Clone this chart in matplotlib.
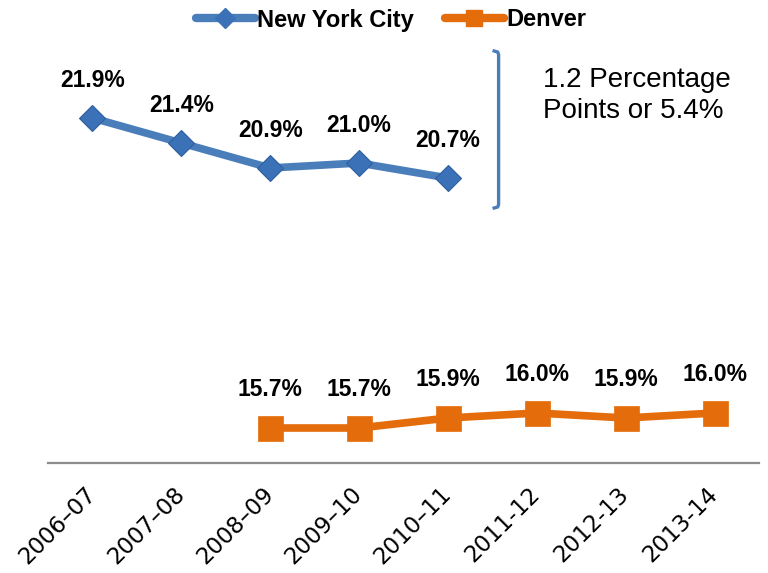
import matplotlib
matplotlib.use("Agg")
import matplotlib.pyplot as plt
from matplotlib.lines import Line2D

seasons = ['2006–07', '2007–08', '2008–09', '2009–10', '2010–11',
           '2011-12', '2012-13', '2013-14']

nyc_idx = [0, 1, 2, 3, 4]
nyc_vals = [21.9, 21.4, 20.9, 21.0, 20.7]

denver_idx = [2, 3, 4, 5, 6, 7]
denver_vals = [15.7, 15.7, 15.9, 16.0, 15.9, 16.0]

note = '1.2 Percentage\nPoints or 5.4%'

blue = '#4A7EBB'
blue_mk = '#3B71B6'
orange = '#E46C0A'

fig = plt.figure(figsize=(7.68, 5.73), dpi=100)
ax = fig.add_axes([48/768, 110/573, 711/768, 425/573])

ax.plot(nyc_idx, nyc_vals, color=blue, lw=5.5, marker='D', ms=13,
        mfc=blue_mk, mec='#2F5F9E', mew=0.8, solid_capstyle='round')
ax.plot(denver_idx, denver_vals, color=orange, lw=5.5, marker='s', ms=18,
        mfc=orange, mec=orange, mew=0.5)

lab_font = dict(family=['Liberation Sans', 'DejaVu Sans'], weight='bold', size=16.5)
for x, v in zip(nyc_idx, nyc_vals):
    ax.annotate(f'{v:.1f}%', (x, v), xytext=(0, 27), textcoords='offset points',
                ha='center', va='center', **lab_font)
for x, v in zip(denver_idx, denver_vals):
    ax.annotate(f'{v:.1f}%', (x, v), xytext=(0, 28), textcoords='offset points',
                ha='center', va='center', **lab_font)

# bracket next to the NYC series
bx = 4.57
ax.plot([bx - 0.05, bx - 0.01, bx, bx, bx - 0.01, bx - 0.05],
        [23.24, 23.22, 23.17, 20.17, 20.12, 20.10],
        color=blue, lw=2.4, clip_on=False, solid_joinstyle='round')
fig.text(543/768, 1 - 67/573, note, ha='left', va='top', fontsize=20,
         family=['Liberation Sans', 'DejaVu Sans'], linespacing=1.25)

ax.set_xlim(-0.5, 7.5)
ax.set_ylim(15, 23.5)
ax.set_xticks(range(len(seasons)))
ax.set_xticklabels(seasons, rotation=45, ha='right', va='center',
                   rotation_mode='anchor', fontsize=16.5, family='DejaVu Sans')
ax.tick_params(axis='x', length=0, pad=20)
ax.set_yticks([])
for s in ['top', 'left', 'right']:
    ax.spines[s].set_visible(False)
ax.spines['bottom'].set_color('#8C8C8C')
ax.spines['bottom'].set_linewidth(1.6)

handles = [
    Line2D([], [], color=blue, lw=6, marker='D', ms=10, mfc=blue_mk,
           mec=blue_mk, solid_capstyle='round'),
    Line2D([], [], color=orange, lw=6, marker='s', ms=11, mfc=orange,
           mec=orange, solid_capstyle='round'),
]
fig.legend(handles, ['New York City', 'Denver'], loc='center',
           bbox_to_anchor=(391/768, 1 - 20/573), ncol=2, frameon=False,
           handlelength=2.5, handletextpad=0.1, columnspacing=1.3,
           prop=dict(family=['Liberation Sans', 'DejaVu Sans'], weight='bold', size=17))

fig.savefig('out.png', dpi=100)
